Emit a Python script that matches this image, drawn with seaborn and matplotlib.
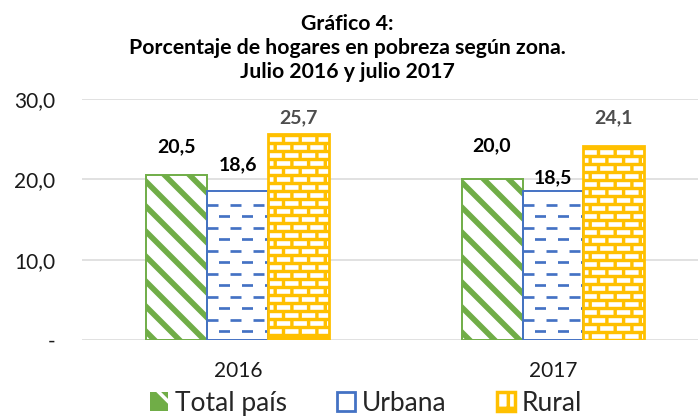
import numpy as np
import pandas as pd
import matplotlib
matplotlib.use('Agg')
import matplotlib.pyplot as plt
import matplotlib.patches as mpatches
from matplotlib.lines import Line2D
from matplotlib.transforms import IdentityTransform
import seaborn as sns

title_lines = ['Gráfico 4:',
               'Porcentaje de hogares en pobreza según zona.',
               'Julio 2016 y julio 2017']
years = ['2016', '2017']
zones = ['Total país', 'Urbana', 'Rural']
total_pais = [20.5, 20.0]
urbana = [18.6, 18.5]
rural = [25.7, 24.1]
y_ticks = [0, 10, 20, 30]
y_tick_labels = ['-', '10,0', '20,0', '30,0']

# how far (px) each value label sits above its bar, as placed in the original
label_lift = {'Total país': [29, 34], 'Urbana': [26, 14], 'Rural': [16, 29]}

colors = {'Total país': '#70AD47', 'Urbana': '#4472C4', 'Rural': '#FFC000'}
label_colors = {'Total país': 'black', 'Urbana': 'black', 'Rural': '#4d4d4d'}

df = pd.DataFrame({'Año': years * 3,
                   'Zona': np.repeat(zones, len(years)),
                   'Porcentaje': total_pais + urbana + rural})

sns.set_style('white')
plt.rcParams['font.family'] = ['Lato', 'DejaVu Sans']
plt.rcParams['lines.scale_dashes'] = False
plt.rcParams['hatch.linewidth'] = 2.5

fig = plt.figure(figsize=(7, 4.19), dpi=100)
ax = fig.add_axes([0.117, 0.1885, 0.88, 0.5752])
sns.barplot(df, x='Año', y='Porcentaje', hue='Zona', order=years, hue_order=zones,
            palette=colors, width=0.58, gap=0, errorbar=None, legend=False, ax=ax, zorder=2)

ax.set_xlim(-0.495, 1.46)
ax.set_ylim(0, 30)
ax.set_yticks(y_ticks, y_tick_labels)
ax.yaxis.grid(True, color='#D9D9D9', lw=1.1)
ax.set_axisbelow(True)
sns.despine(ax=ax, left=True, bottom=True)
ax.set_xlabel('')
ax.set_ylabel('')
ax.tick_params(axis='y', length=0, pad=19, labelsize=15, labelcolor='#1a1a1a')
ax.tick_params(axis='x', length=0, pad=15, labelsize=15, labelcolor='#1a1a1a')

PT = 72 / fig.dpi


def px_box(bar):
    (x0, y0), (x1, y1) = ax.transData.transform(
        [(bar.get_x(), bar.get_y()), (bar.get_x() + bar.get_width(), bar.get_y() + bar.get_height())])
    return x0, y0, x1, y1


def add_clipped(ln, bar):
    ax.add_line(ln)
    ln.set_clip_path(bar)


def dash_rows(bar, ys, color, lw, dash, gap, shift, first_shifted):
    x0, y0, x1, y1 = px_box(bar)
    for i, y in enumerate(ys):
        off = shift if (i % 2 == 0) == first_shifted else 0
        ln = Line2D([x0, x1], [y, y], transform=IdentityTransform(), color=color, lw=lw * PT,
                    linestyle=(off * PT, (dash * PT, gap * PT)), dash_capstyle='butt', zorder=3)
        add_clipped(ln, bar)


for zone, cont in zip(zones, ax.containers):
    c = colors[zone]
    for bar in cont:
        bar.set_facecolor(c if zone == 'Rural' else 'white')
        bar.set_edgecolor('none')
        x0, y0, x1, y1 = px_box(bar)
        if zone == 'Total país':
            per = 25
            k = 0
            while y0 + 8 + k * per - 10 < y1 + (x1 - x0):
                c0 = y0 + 8 + k * per
                ln = Line2D([x0 - 10, x1 + 10], [c0 + 10, c0 - (x1 - x0) - 10],
                            transform=IdentityTransform(), color=c, lw=5.6 * PT,
                            solid_capstyle='butt', zorder=3)
                add_clipped(ln, bar)
                k += 1
        elif zone == 'Urbana':
            ys = np.arange(y0 + 9, y1 - 5, 11.5)
            dash_rows(bar, ys, c, 2.7, 11, 12, 11.5, True)
        else:
            ys = np.arange(y1 - 5.2, y0 + 2, -8.0)
            dash_rows(bar, ys, 'white', 4.6, 13.3, 3.4, 8.3, False)
        ax.add_patch(mpatches.Rectangle((bar.get_x(), bar.get_y()), bar.get_width(), bar.get_height(),
                                        fill=False, edgecolor=c, lw=2.0 if zone == 'Rural' else 1.4,
                                        zorder=4))
    for bar, val, lift in zip(cont, cont.datavalues, label_lift[zone]):
        ax.annotate(f'{val:.1f}'.replace('.', ','),
                    xy=(bar.get_x() + bar.get_width() / 2, bar.get_height()),
                    xytext=(0, lift * PT), textcoords='offset points', ha='center', va='center',
                    fontsize=14, fontweight='bold', color=label_colors[zone], annotation_clip=False)

for line, base in zip(title_lines, [30, 54, 78]):
    fig.text(347 / 700, 1 - base / 419, line, ha='center', va='baseline',
             fontsize=15.3, fontweight='bold', color='black')

handles = [
    mpatches.Patch(facecolor=colors['Total país'], edgecolor='white', lw=0, hatch='\\'),
    mpatches.Patch(facecolor='white', edgecolor=colors['Urbana'], lw=2),
    mpatches.Patch(facecolor='white', edgecolor=colors['Rural'], lw=2.5, hatch='+'),
]
fig.legend(handles, zones, loc='center', bbox_to_anchor=(366 / 700, 1 - 403 / 419), ncol=3,
           frameon=False, fontsize=19, handlelength=0.7, handleheight=0.7, handletextpad=0.25,
           columnspacing=1.9, borderaxespad=0, borderpad=0)

fig.savefig('out.png', dpi=100)
